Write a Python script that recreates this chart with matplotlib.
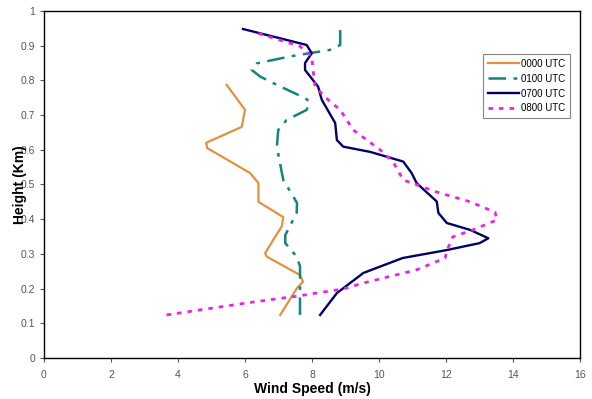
import matplotlib
matplotlib.use("Agg")
import matplotlib.pyplot as plt

plt.rcParams['font.family'] = ['Liberation Sans', 'DejaVu Sans']

# wind speed (m/s) vs height (km)
h_0000 = [0.124, 0.200, 0.220, 0.239, 0.292, 0.302, 0.340, 0.380, 0.406, 0.450,
          0.504, 0.533, 0.605, 0.620, 0.666, 0.715, 0.787]
ws_0000 = [7.05, 7.54, 7.73, 7.64, 6.65, 6.60, 6.84, 7.10, 7.14, 6.40,
           6.40, 6.15, 4.87, 4.84, 5.90, 6.00, 5.45]

h_0100 = [0.124, 0.264, 0.292, 0.331, 0.354, 0.418, 0.447, 0.513, 0.533, 0.609,
          0.657, 0.686, 0.715, 0.739, 0.749, 0.787, 0.811, 0.830, 0.849, 0.869,
          0.888, 0.902, 0.945]
ws_0100 = [7.64, 7.64, 7.54, 7.20, 7.20, 7.54, 7.55, 7.14, 7.10, 6.95,
           6.99, 7.24, 7.84, 7.92, 7.79, 6.95, 6.45, 6.20, 6.35, 7.34,
           8.54, 8.84, 8.84]

h_0700 = [0.124, 0.187, 0.245, 0.288, 0.311, 0.331, 0.345, 0.369, 0.389, 0.418,
          0.451, 0.504, 0.533, 0.566, 0.594, 0.609, 0.628, 0.677, 0.744, 0.782,
          0.830, 0.850, 0.878, 0.902, 0.948]
ws_0700 = [8.24, 8.74, 9.53, 10.70, 12.02, 13.00, 13.26, 12.72, 12.02, 11.77,
           11.72, 11.12, 10.97, 10.72, 9.73, 8.93, 8.74, 8.69, 8.29, 8.18,
           7.79, 7.79, 7.99, 7.84, 5.94]

h_0800 = [0.124, 0.160, 0.178, 0.199, 0.216, 0.254, 0.288, 0.311, 0.349, 0.369,
          0.398, 0.420, 0.450, 0.478, 0.513, 0.565, 0.600, 0.657, 0.715, 0.744,
          0.782, 0.830, 0.869, 0.898, 0.940]
ws_0800 = [3.66, 6.15, 7.54, 8.93, 9.53, 11.12, 11.97, 12.03, 12.20, 12.80,
           13.52, 13.46, 12.72, 11.73, 10.72, 10.42, 10.03, 9.23, 8.84, 8.48,
           8.09, 8.03, 7.99, 7.64, 6.24]

fig = plt.figure(figsize=(5.92, 3.99), dpi=100)
ax = fig.add_axes([0.0743, 0.1028, 0.9057, 0.8697])

ax.plot(ws_0000, h_0000, color='#E3913C', lw=1.6, label='0000 UTC')
ax.plot(ws_0100, h_0100, color='#12857C', lw=1.8, ls=(0, (7, 3, 1.5, 3)), label='0100 UTC')
ax.plot(ws_0700, h_0700, color='#000066', lw=1.7, label='0700 UTC')
ax.plot(ws_0800, h_0800, color='#F01CF0', lw=2.0, ls=(0, (1.6, 2.2)), label='0800 UTC')

ax.set_xlim(0, 16)
ax.set_ylim(0, 1)
ax.set_xticks(range(0, 17, 2))
ax.set_yticks([i / 10 for i in range(11)])
ax.set_yticklabels(['0', '0.1', '0.2', '0.3', '0.4', '0.5', '0.6', '0.7', '0.8', '0.9', '1'])
ax.tick_params(labelsize=7.5, colors='#555555', length=3, width=0.8)
ax.tick_params(axis='x', pad=6)
for s in ax.spines.values():
    s.set_color('black')
    s.set_linewidth(1.0)

ax.set_xlabel('Wind Speed (m/s)', fontsize=10, fontweight='bold', labelpad=1)
ax.set_ylabel('Height (Km)', fontsize=10, fontweight='bold', labelpad=-5)

leg = ax.legend(loc='upper left', bbox_to_anchor=(0.819, 0.876), fontsize=7,
                frameon=True, fancybox=False, borderpad=0.5, labelspacing=0.5,
                handlelength=3.2, handletextpad=0.2, borderaxespad=0)
leg.get_frame().set_edgecolor('#666666')
leg.get_frame().set_linewidth(0.8)

fig.savefig('out.png', dpi=100)
